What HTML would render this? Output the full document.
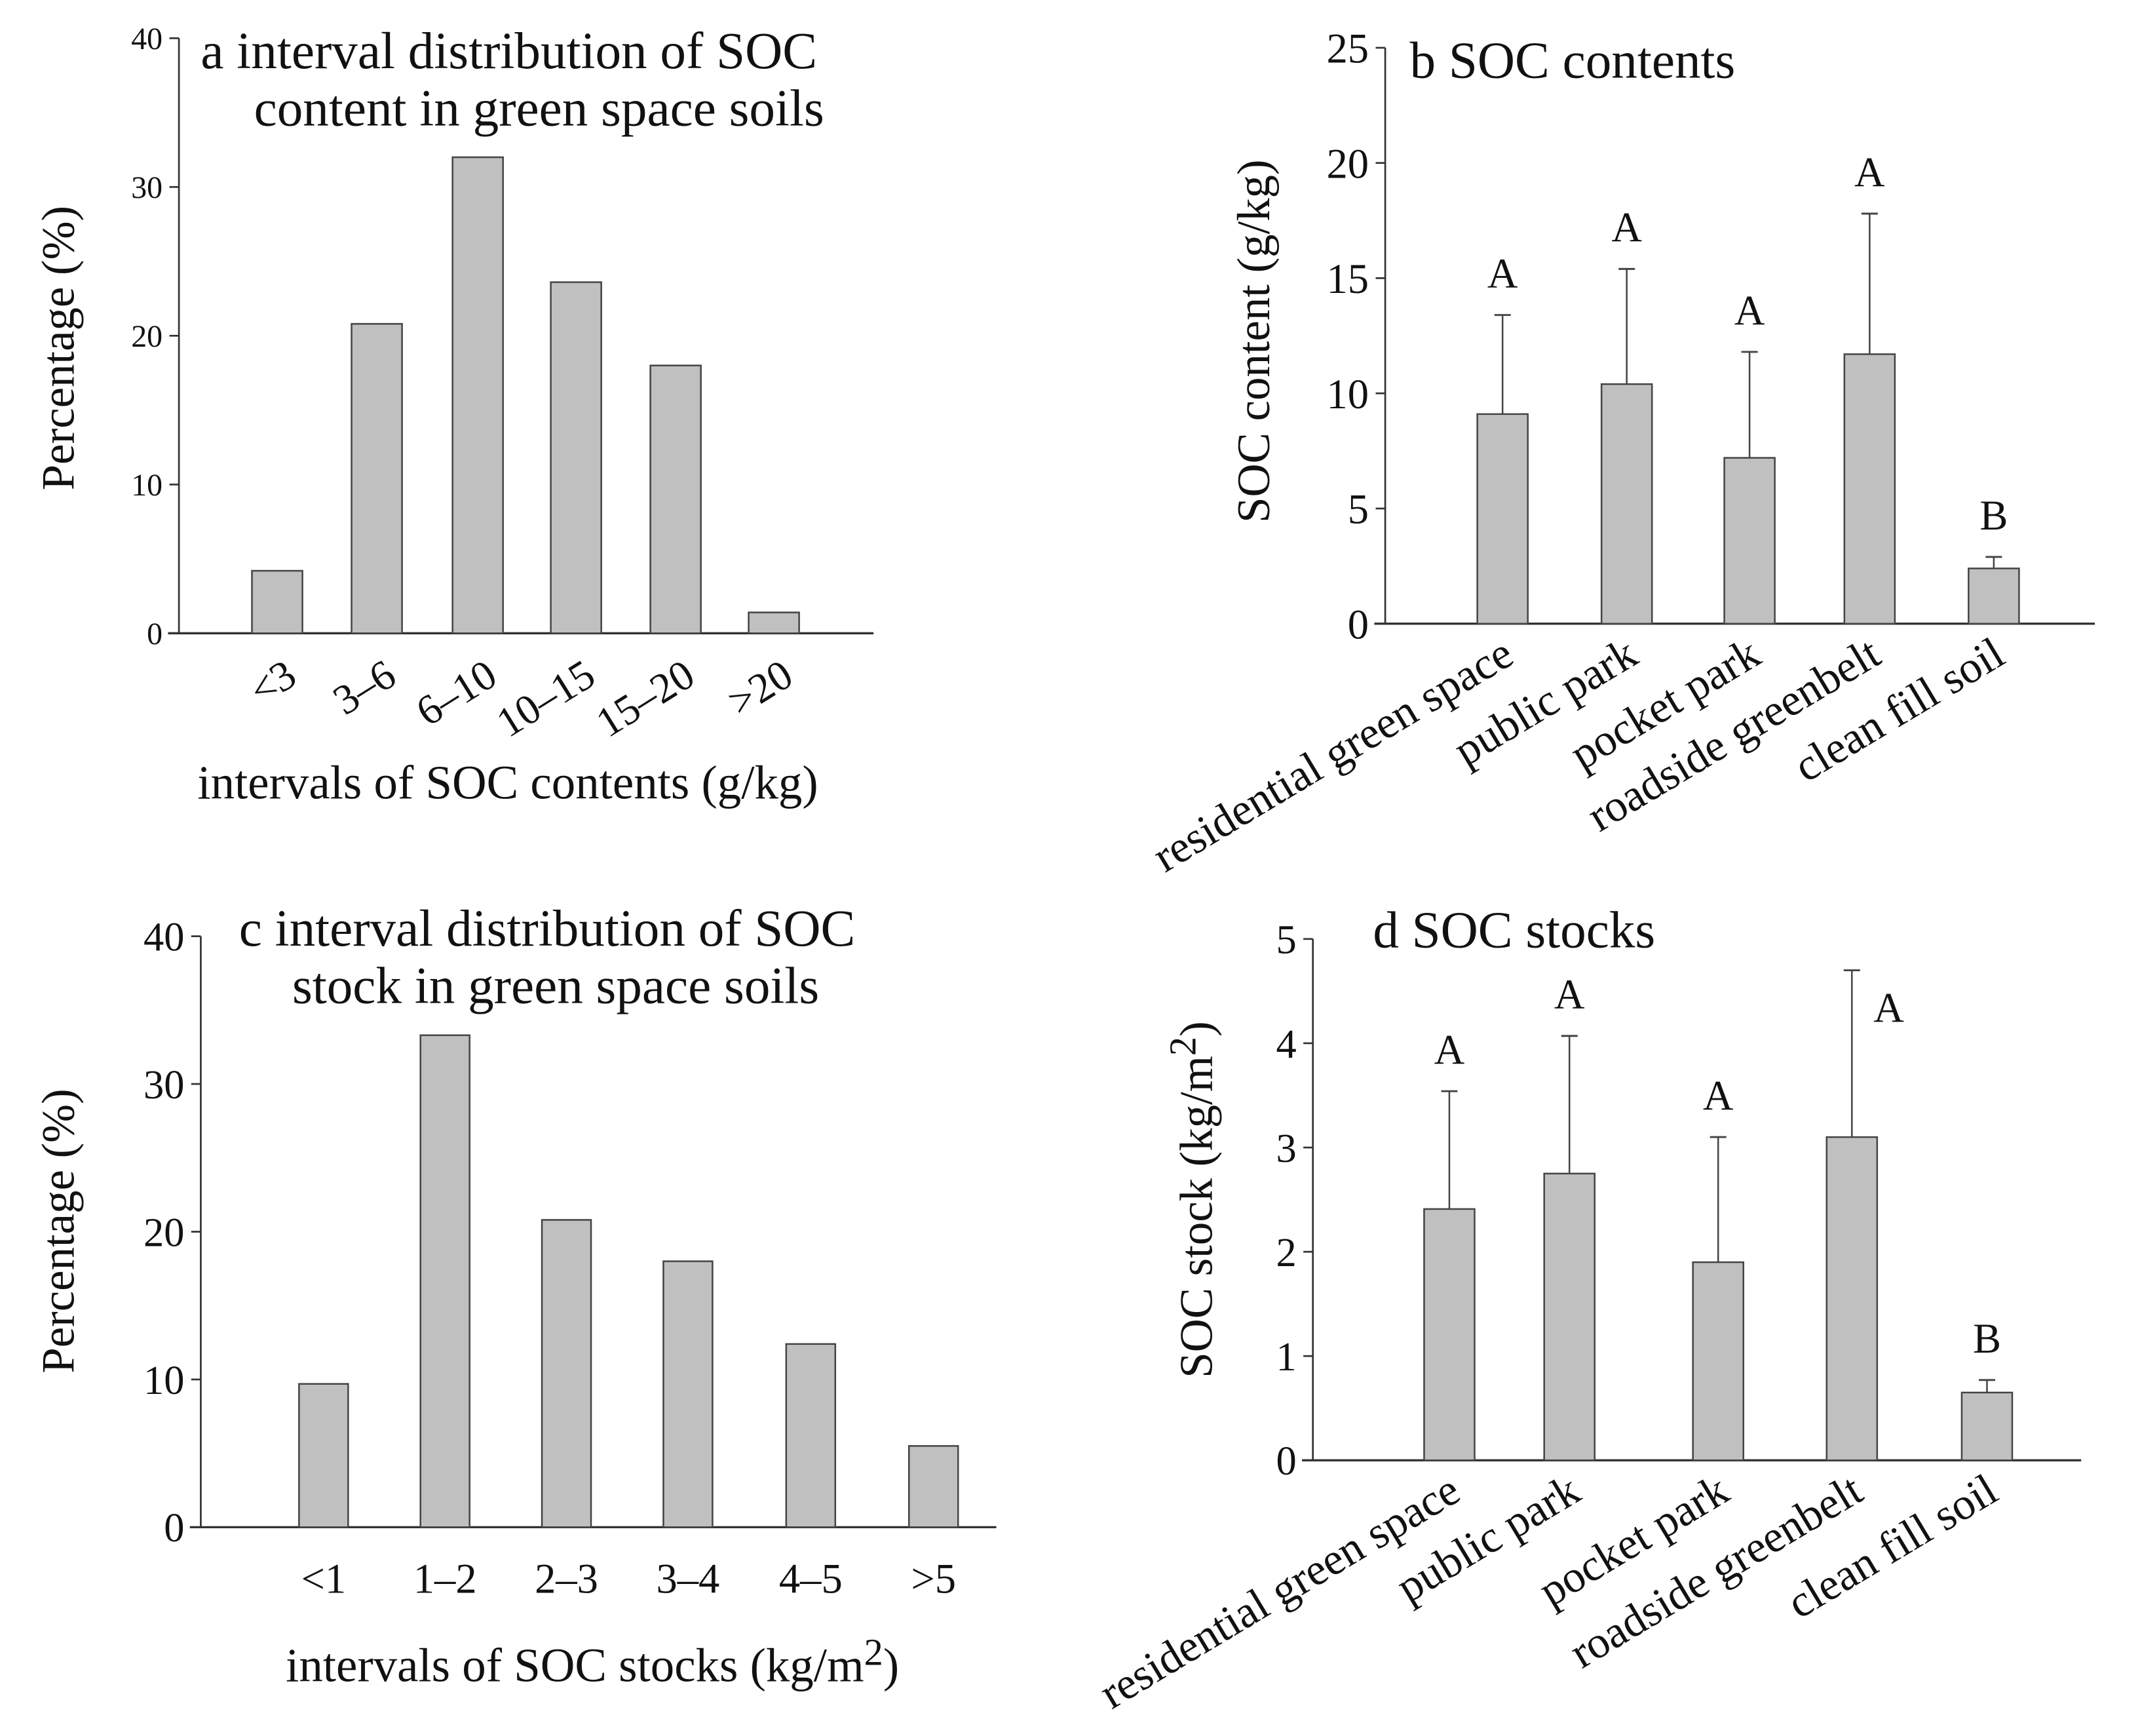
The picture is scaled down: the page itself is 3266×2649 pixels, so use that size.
<!DOCTYPE html>
<html><head><meta charset="utf-8"><style>
html,body{margin:0;padding:0;background:#fff}
svg{display:block}
text{font-family:"Liberation Serif",serif;fill:#111}
</style></head><body>
<svg id="fig" width="3266" height="2649" viewBox="0 0 1568 1272" xmlns="http://www.w3.org/2000/svg"></svg>
<script>
// Panel a data
const aCats = ["<3","3\u20136","6\u201310","10\u201315","15\u201320",">20"];
const aVals = [4.2, 20.8, 32.0, 23.6, 18.0, 1.4];
const aTicks = [0,10,20,30,40];
// Panel b data
const bCats = ["residential green space","public park","pocket park","roadside greenbelt","clean fill soil"];
const bVals = [9.1, 10.4, 7.2, 11.7, 2.4];
const bErr = [13.4, 15.4, 11.8, 17.8, 2.9];
const bLetters = ["A","A","A","A","B"];
const bTicks = [0,5,10,15,20,25];
// Panel c data
const cCats = ["<1","1\u20132","2\u20133","3\u20134","4\u20135",">5"];
const cVals = [9.7, 33.3, 20.8, 18.0, 12.4, 5.5];
const cTicks = [0,10,20,30,40];
// Panel d data
const dCats = ["residential green space","public park","pocket park","roadside greenbelt","clean fill soil"];
const dVals = [2.41, 2.75, 1.90, 3.10, 0.65];
const dErr = [3.54, 4.07, 3.10, 4.70, 0.77];
const dLetters = ["A","A","A","A","B"];
const dTicks = [0,1,2,3,4,5];

const NS="http://www.w3.org/2000/svg";
const svg=document.getElementById('fig');
function el(tag,attrs,parent,txt){const e=document.createElementNS(NS,tag);for(const k in attrs)e.setAttribute(k,attrs[k]);if(txt!==undefined)e.textContent=txt;(parent||svg).appendChild(e);return e;}

function panel(cfg){
  const g=el('g',{});
  
  
  const max=cfg.ticks[cfg.ticks.length-1];
  const y=v=>cfg.y0-(v/max)*(cfg.y0-cfg.yTop);
  const ya=el('line',{x1:cfg.ax,y1:cfg.yTop,x2:cfg.ax,y2:cfg.y0,stroke:'#333','stroke-width':1.3},g);
  
  
  const xa=el('line',{x1:cfg.ax-8,y1:cfg.y0,x2:cfg.xEnd,y2:cfg.y0,stroke:'#333','stroke-width':1.6},g);
  
  
  cfg.ticks.forEach(t=>{
    el('line',{x1:cfg.ax-7,y1:y(t),x2:cfg.ax,y2:y(t),stroke:'#333','stroke-width':1.3},g);
    const tl=el('text',{x:cfg.ax-12,y:y(t)+cfg.tickFs*0.35,'text-anchor':'end','font-size':cfg.tickFs},g,String(t));
    
    
  });
  cfg.vals.forEach((v,i)=>{
    const cx=cfg.cx[i];
    const r=el('rect',{x:cx-cfg.bw/2,y:y(v),width:cfg.bw,height:cfg.y0-y(v),fill:'#c0c0c0',stroke:'#444','stroke-width':1.2},g);
    
    
    if(cfg.err){
      el('line',{x1:cx,y1:y(cfg.err[i]),x2:cx,y2:y(v),stroke:'#444','stroke-width':1.2},g);
      el('line',{x1:cx-6,y1:y(cfg.err[i]),x2:cx+6,y2:y(cfg.err[i]),stroke:'#444','stroke-width':1.4},g);
      const lx=cfg.letterDx?cx+cfg.letterDx[i]:cx;
      const ly=cfg.letterDx&&cfg.letterDx[i]?y(cfg.err[i])+38:y(cfg.err[i])-20;
      const lt=el('text',{x:lx,y:ly,'text-anchor':'middle','font-size':31},g,cfg.letters[i]);
      
      
    }
    let lab;
    if(cfg.rot){
      lab=el('text',{x:0,y:0,'text-anchor':'end','font-size':cfg.catFs,transform:`translate(${cx+cfg.labDx},${cfg.y0+cfg.labDy}) rotate(${cfg.rot})`},g,cfg.cats[i]);
    } else {
      lab=el('text',{x:cx,y:cfg.y0+cfg.labDy,'text-anchor':'middle','font-size':cfg.catFs},g,cfg.cats[i]);
    }
    
    
  });
  cfg.title.forEach(t=>{
    const tt=el('text',{x:t[0],y:t[1],'font-size':cfg.titleFs||38},g,t[2]);
    
    
  });
  const yl=el('text',{x:0,y:0,'text-anchor':'middle','font-size':34,transform:`translate(${cfg.ylab[0]},${cfg.ylab[1]}) rotate(-90)`},g);
  
  
  yl.innerHTML=cfg.ylab[2];
  if(cfg.xlab){
    const xl=el('text',{x:cfg.xlab[0],y:cfg.xlab[1],'text-anchor':'middle','font-size':35},g);
    
    
    xl.innerHTML=cfg.xlab[2];
  }
}

panel({name:'panel-a',ticks:aTicks,vals:aVals,cats:aCats,ax:131,y0:464,yTop:28,xEnd:640,
  cx:[203,276,350,422,495,567],bw:37,tickFs:23,catFs:31,rot:-32,labDx:16,labDy:36,
  title:[[147,50,'a  interval distribution of SOC'],[186,92,'content in green space soils']],
  ylab:[54,255,'Percentage (%)'],xlab:[372,585,'intervals of SOC contents (g/kg)']});

panel({name:'panel-b',ticks:bTicks,vals:bVals,err:bErr,letters:bLetters,cats:bCats,ax:1015,y0:457,yTop:35,xEnd:1535,
  cx:[1101,1192,1282,1370,1461],bw:37,tickFs:31,catFs:33,rot:-31,labDx:10,labDy:28,
  title:[[1033,57,'b SOC contents']],
  ylab:[930,250,'SOC content (g/kg)']});

panel({name:'panel-c',ticks:cTicks,vals:cVals,cats:cCats,ax:147,y0:1119,yTop:686,xEnd:730,
  cx:[237,326,415,504,594,684],bw:36,tickFs:30,catFs:31,labDy:48,
  title:[[175,693,'c  interval distribution of SOC'],[214,735,'stock in green space soils']],
  ylab:[54,902,'Percentage (%)'],xlab:[434,1232,'intervals of SOC stocks (kg/m<tspan dy="-12" font-size="28">2</tspan><tspan dy="12">)</tspan>']});

panel({name:'panel-d',ticks:dTicks,vals:dVals,err:dErr,letters:dLetters,cats:dCats,ax:962,y0:1070,yTop:688,xEnd:1525,
  cx:[1062,1150,1259,1357,1456],bw:37,tickFs:30,catFs:33,rot:-31,labDx:10,labDy:28,letterDx:[0,0,0,27,0],
  title:[[1006,694,'d  SOC stocks']],
  ylab:[888,879,'SOC stock (kg/m<tspan dy="-12" font-size="28">2</tspan><tspan dy="12">)</tspan>']});
</script>
</body></html>
